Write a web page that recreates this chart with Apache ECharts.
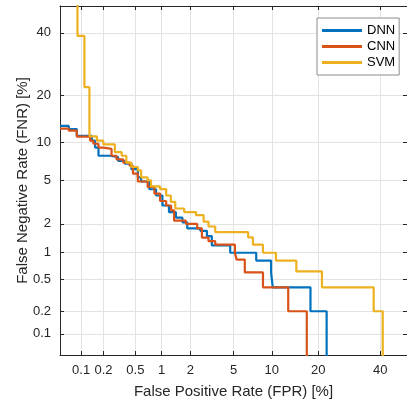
<!DOCTYPE html>
<html>
<head>
<meta charset="utf-8">
<script src="https://cdn.jsdelivr.net/npm/echarts@6/dist/echarts.min.js"></script>
<style>
html, body { margin: 0; padding: 0; background: #fff; }
#chart { width: 407px; height: 404px; }
</style>
</head>
<body>
<div id="chart"></div>
<script>
// DET curves, values in percent [FPR, FNR]; each point starts a horizontal step
var dnn = [[0.05,12.9],[0.067,12.3],[0.087,11.05],[0.14,10.2],[0.155,9.1],[0.172,7.9],[0.242,7.7],
    [0.308,7.2],[0.373,6.85],[0.448,6.2],[0.535,5.3],[0.585,4.9],[0.727,4.2],[0.867,3.7],[1.02,3.0],
    [1.2,2.6],[1.42,2.3],[1.66,2.07],[1.86,1.8],[2.5,1.7],[2.89,1.5],[3.21,1.2],[4.68,1.0],[7.64,0.82],
    [9.87,0.6],[10.15,0.4],[18.0,0.2],[22.3,0.01]];
var cnn = [[0.05,12.4],[0.067,12.0],[0.087,10.9],[0.133,10.2],[0.147,9.7],[0.172,9.1],[0.199,8.9],
    [0.254,7.9],[0.294,7.4],[0.356,7.0],[0.427,6.6],[0.468,5.7],[0.535,4.9],[0.695,4.4],[0.83,3.85],
    [0.96,3.3],[1.12,3.0],[1.265,2.7],[1.36,2.15],[1.8,2.0],[2.33,1.8],[2.59,1.45],[2.99,1.33],
    [3.45,1.22],[5.14,0.99],[5.31,0.84],[6.2,0.6],[8.6,0.4],[13.0,0.2],[17.1,0.01]];
var svm = [[0.089,60],[0.089,38.9],[0.111,22.2],[0.13,10.95],[0.164,10.2],[0.199,9.6],[0.28,8.4],
    [0.341,7.9],[0.389,7.0],[0.448,6.45],[0.535,6.05],[0.585,5.3],[0.695,5.0],[0.76,4.45],[0.96,4.22],
    [1.12,3.7],[1.255,3.24],[1.4,2.81],[1.73,2.6],[2.27,2.43],[2.69,2.1],[2.99,1.88],[3.45,1.65],
    [6.6,1.46],[7.2,1.22],[8.6,1.0],[10.7,0.82],[14.7,0.617],[21,0.4],[37.6,0.2],[40.9,0.01]];

var tickValues = [0.1, 0.2, 0.5, 1, 2, 5, 10, 20, 40];
var tickLabels = ['0.1', '0.2', '0.5', '1', '2', '5', '10', '20', '40'];
var axisMin = 0.05, axisMax = 50;

// inverse normal cdf (Acklam)
function probit(p) {
    var a = [-3.969683028665376e+01, 2.209460984245205e+02, -2.759285104469687e+02, 1.383577518672690e+02, -3.066479806614716e+01, 2.506628277459239e+00];
    var b = [-5.447609879822406e+01, 1.615858368580409e+02, -1.556989798598866e+02, 6.680131188771972e+01, -1.328068155288572e+01];
    var c = [-7.784894002430293e-03, -3.223964580411365e-01, -2.400758277161838e+00, -2.549732539343734e+00, 4.374664141464968e+00, 2.938163982698783e+00];
    var d = [7.784695709041462e-03, 3.224671290700398e-01, 2.445134137142996e+00, 3.754408661907416e+00];
    var plow = 0.02425, q, r;
    if (p < plow) {
        q = Math.sqrt(-2 * Math.log(p));
        return (((((c[0]*q+c[1])*q+c[2])*q+c[3])*q+c[4])*q+c[5]) / ((((d[0]*q+d[1])*q+d[2])*q+d[3])*q+1);
    }
    if (p <= 1 - plow) {
        q = p - 0.5; r = q * q;
        return (((((a[0]*r+a[1])*r+a[2])*r+a[3])*r+a[4])*r+a[5])*q / (((((b[0]*r+b[1])*r+b[2])*r+b[3])*r+b[4])*r+1);
    }
    q = Math.sqrt(-2 * Math.log(1 - p));
    return -(((((c[0]*q+c[1])*q+c[2])*q+c[3])*q+c[4])*q+c[5]) / ((((d[0]*q+d[1])*q+d[2])*q+d[3])*q+1);
}
function toProbit(pct) { return probit(pct / 100); }
function convert(arr) {
    return arr.map(function (d) { return [toProbit(d[0]), toProbit(d[1])]; });
}

var ticks = tickValues.map(toProbit);
function fmt(v) {
    for (var i = 0; i < ticks.length; i++) {
        if (Math.abs(ticks[i] - v) < 1e-6) return tickLabels[i];
    }
    return '';
}

var font = 'Liberation Sans, Arial, Helvetica, sans-serif';

function makeAxis(extra) {
    var ax = {
        type: 'value',
        min: toProbit(axisMin),
        max: toProbit(axisMax),
        nameMoveOverlap: false,
        axisLine: { show: true, onZero: false, lineStyle: { color: '#262626', width: 1 } },
        axisTick: { show: true, inside: true, length: 4, customValues: ticks, lineStyle: { color: '#262626' } },
        axisLabel: { customValues: ticks, formatter: fmt, color: '#262626', fontSize: 13, fontFamily: font, margin: 9 },
        splitLine: { show: true, lineStyle: { color: '#e3e3e3', width: 1 } },
        nameTextStyle: { color: '#262626', fontSize: 15, fontFamily: font }
    };
    for (var k in extra) ax[k] = extra[k];
    return ax;
}

var chart = echarts.init(document.getElementById('chart'));

var option = {
    animation: false,
    grid: { left: 60, right: -4, top: 6, bottom: 47 },
    legend: {
        data: ['DNN', 'CNN', 'SVM'],
        orient: 'vertical',
        left: 317,
        top: 18,
        icon: 'rect',
        itemWidth: 40,
        itemHeight: 3,
        itemGap: 3,
        padding: [6, 4, 6, 5],
        backgroundColor: '#fff',
        borderColor: '#8c8c8c',
        borderWidth: 1,
        borderRadius: 0,
        textStyle: { color: '#000', fontSize: 13, fontFamily: font }
    },
    xAxis: [
        makeAxis({ position: 'bottom', name: 'False Positive Rate (FPR) [%]', nameLocation: 'middle', nameGap: 29 }),
        makeAxis({ position: 'top', axisLabel: { show: false, customValues: ticks }, splitLine: { show: false } })
    ],
    yAxis: [
        makeAxis({ position: 'left', name: 'False Negative Rate (FNR) [%]', nameLocation: 'middle', nameGap: 30 }),
        makeAxis({ position: 'right', axisLabel: { show: false, customValues: ticks }, splitLine: { show: false } })
    ],
    series: [
        { name: 'DNN', type: 'line', step: 'end', showSymbol: false, data: convert(dnn),
          color: '#0072BD', lineStyle: { width: 2.2 } },
        { name: 'CNN', type: 'line', step: 'end', showSymbol: false, data: convert(cnn),
          color: '#D95319', lineStyle: { width: 2.2 } },
        { name: 'SVM', type: 'line', step: 'end', showSymbol: false, data: convert(svm),
          color: '#EDB120', lineStyle: { width: 2.2 } }
    ]
};

chart.setOption(option);
</script>
</body>
</html>
